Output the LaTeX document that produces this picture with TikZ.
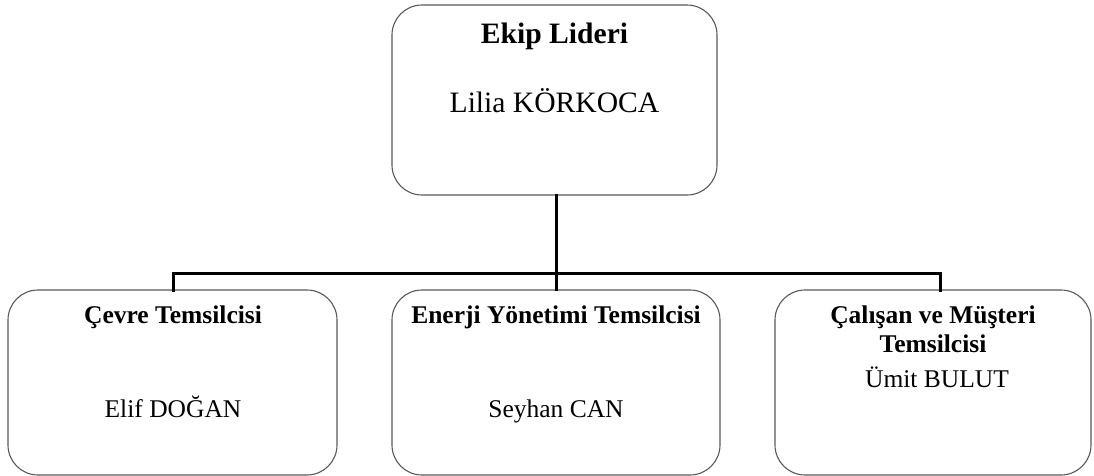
\documentclass[tikz,border=0pt]{standalone}
\usepackage{fontspec}
\setmainfont{Liberation Serif}
\begin{document}
\begin{tikzpicture}[x=1pt,y=-1pt,
  box/.style={draw=black!65,line width=1.1pt,rounded corners=30pt,inner sep=0pt},
  conn/.style={line width=3pt,line cap=rect},
  bigtxt/.style={inner sep=0pt,anchor=base,font=\fontsize{29.6}{34}\selectfont},
  smalltxt/.style={inner sep=0pt,anchor=base,font=\fontsize{25.5}{29}\selectfont,align=center}]
\useasboundingbox (0,0) rectangle (1094,475);
% boxes
\node[box,minimum width=325pt,minimum height=190pt] (top) at (554.5,100) {};
\node[box,minimum width=329pt,minimum height=185pt] (left) at (172.5,382.5) {};
\node[box,minimum width=328pt,minimum height=185pt] (mid) at (556,382.5) {};
\node[box,minimum width=316pt,minimum height=185pt] (right) at (933,382.5) {};
% texts
\node[bigtxt,font=\fontsize{29.6}{34}\selectfont\bfseries] (t1) at (554.5,43) {Ekip Lideri};
\node[bigtxt] (t2) at (554.5,112) {Lilia KÖRKOCA};
\node[smalltxt,font=\fontsize{25.5}{29}\selectfont\bfseries] (l1) at (173,323) {Çevre Temsilcisi};
\node[smalltxt] (l2) at (173,417) {Elif DOĞAN};
\node[smalltxt,font=\fontsize{25.5}{29}\selectfont\bfseries] (m1) at (556,323) {Enerji Yönetimi Temsilcisi};
\node[smalltxt,font=\fontsize{25.5}{29}\selectfont\bfseries] (r1) at (933,323) {Çalışan ve Müşteri};
\node[smalltxt,font=\fontsize{25.5}{29}\selectfont\bfseries] (r2) at (933,352) {Temsilcisi};
\node[smalltxt] (m2) at (556,417) {Seyhan CAN};
\node[smalltxt] (r3) at (937,387) {Ümit BULUT};
% connectors
\coordinate (jm) at (556,273);
\coordinate (jl) at (173,273);
\coordinate (jr) at (940,273);
\coordinate (tl) at (173,290);
\coordinate (tr) at (940,290);
\draw[conn] (top.south -| jm) -- (jm);
\draw[conn] (jl) -- (jr);
\draw[conn] (jl) -- (tl);
\draw[conn] (jm) -- (mid.north);
\draw[conn] (jr) -- (tr);
\end{tikzpicture}
\end{document}
